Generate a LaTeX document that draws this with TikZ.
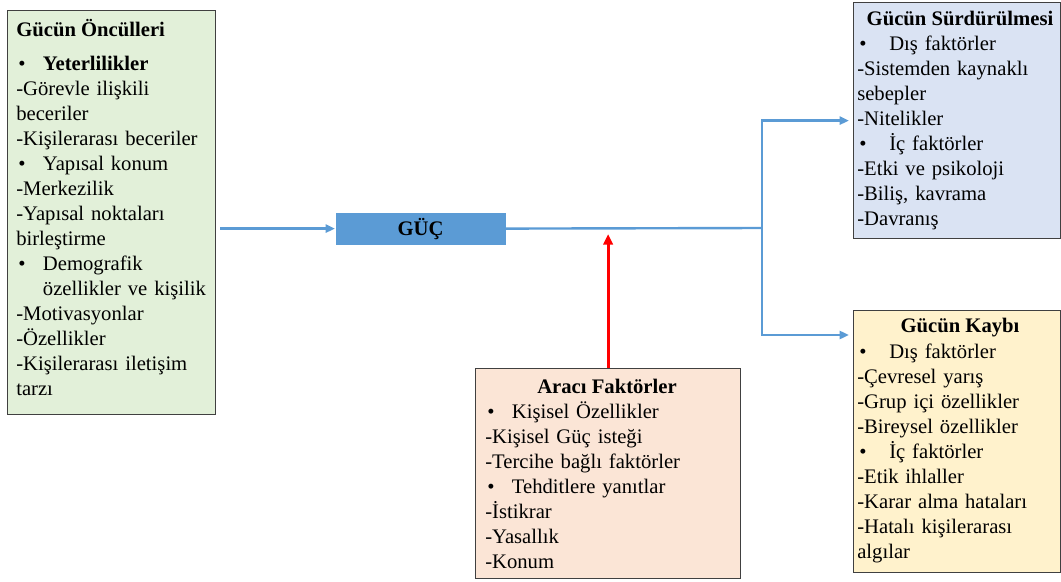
\documentclass[tikz,border=0pt]{standalone}
\usepackage{fontspec}
\setmainfont{Liberation Serif}
\newfontfamily\timesyazi{Liberation Serif}
\usetikzlibrary{arrows.meta}
\definecolor{boxgreen}{RGB}{226,240,217}
\definecolor{boxblue}{RGB}{218,227,243}
\definecolor{boxyellow}{RGB}{255,242,204}
\definecolor{boxpeach}{RGB}{251,229,214}
\definecolor{gucblue}{RGB}{91,155,213}
\definecolor{frame}{RGB}{64,64,64}
\newcommand{\madde}[1][20pt]{\makebox[#1][l]{\hspace{1.5pt}\textbullet}}

\begin{document}
\begin{tikzpicture}[x=0.75pt,y=-0.75pt]
        \tikzstyle{every node}=[font=\timesyazi\fontsize{15.5}{18.75}\selectfont]
        \tikzstyle{kutu}=[draw=frame,line width=0.9pt,anchor=north west,inner sep=0pt]
        \tikzstyle{yazi}=[anchor=base west,align=left,inner sep=0pt,text width=200pt]
        \tikzstyle{baslik}=[anchor=base,inner sep=0pt,font=\timesyazi\fontsize{15.5}{18.75}\selectfont\bfseries]
        \tikzstyle{mavi}=[gucblue,line width=1.8pt]
        \tikzstyle{ok}=[-{Triangle[length=7pt,width=6pt]}]
        \useasboundingbox (0,0) rectangle (1061,582);

        \node[kutu,fill=boxgreen,minimum width=156pt,minimum height=303pt] (oncul) at (7,10) {};
        \node[baslik,anchor=base west] (oncul-b) at (16,36) {Gücün Öncülleri};
        \node[yazi] (oncul-y) at (16,70) {\madde\textbf{Yeterlilikler}\\-Görevle ilişkili\\beceriler\\-Kişilerarası beceriler\\\madde Yapısal konum\\-Merkezilik\\-Yapısal noktaları\\birleştirme\\\madde Demografik\\\hspace*{20pt}özellikler ve kişilik\\-Motivasyonlar\\-Özellikler\\-Kişilerarası iletişim\\tarzı};

        \node[kutu,fill=gucblue,draw=none,minimum width=127.5pt,minimum height=24pt,font=\timesyazi\fontsize{15.5}{18.75}\selectfont\bfseries] (guc) at (335,212) {GÜÇ};

        \node[kutu,fill=boxblue,minimum width=155.25pt,minimum height=177pt] (surdur) at (853,2) {};
        \node[baslik] (surdur-b) at (960,25) {Gücün Sürdürülmesi};
        \node[yazi] (surdur-y) at (857,50) {\madde[24pt]Dış faktörler\\-Sistemden kaynaklı\\sebepler\\-Nitelikler\\\madde[24pt]İç faktörler\\-Etki ve psikoloji\\-Biliş, kavrama\\-Davranış};

        \node[kutu,fill=boxyellow,minimum width=155.25pt,minimum height=196.5pt] (kayip) at (853,310) {};
        \node[baslik] (kayip-b) at (960,332) {Gücün Kaybı};
        \node[yazi] (kayip-y) at (857,358) {\madde[24pt]Dış faktörler\\-Çevresel yarış\\-Grup içi özellikler\\-Bireysel özellikler\\\madde[24pt]İç faktörler\\-Etik ihlaller\\-Karar alma hataları\\-Hatalı kişilerarası\\algılar};

        \node[kutu,fill=boxpeach,minimum width=198.75pt,minimum height=157.5pt] (arac) at (475,368) {};
        \node[baslik] (arac-b) at (607,393) {Aracı Faktörler};
        \node[yazi] (arac-y) at (485,418) {\madde Kişisel Özellikler\\-Kişisel Güç isteği\\-Tercihe bağlı faktörler\\\madde Tehditlere yanıtlar\\-İstikrar\\-Yasallık\\-Konum};

        \coordinate (ayrim) at (762,228);
        \coordinate (kayipgiris) at (849,335);
        \draw[mavi,ok,shorten <=3pt] (oncul.east |- guc.west) -- (guc.west);
        \draw[mavi] (guc.east) -- (ayrim);
        \draw[mavi,ok,shorten >=3pt] (ayrim) |- (surdur.west);
        \draw[mavi,ok] (ayrim) |- (kayipgiris);
        \draw[red,line width=2.2pt,-{Triangle[length=8pt,width=7pt]},shorten >=4.5pt] (arac.north) -- (arac.north |- ayrim);
\end{tikzpicture}
\end{document}
